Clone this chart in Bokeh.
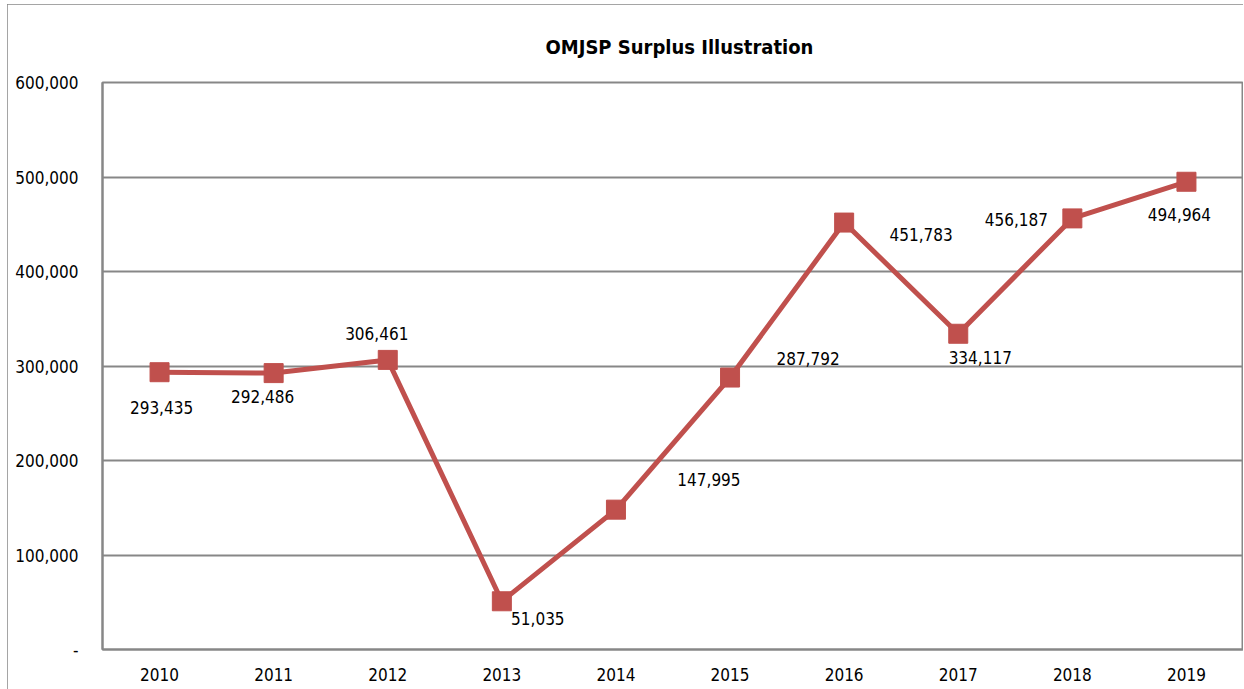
from bokeh.plotting import figure
from bokeh.models import ColumnDataSource, NumeralTickFormatter, FixedTicker, Range1d
from bokeh.core.properties import value
from bokeh.embed import file_html
from bokeh.resources import INLINE

# ---- data ----
years = ["2010", "2011", "2012", "2013", "2014", "2015", "2016", "2017", "2018", "2019"]
surplus = [293435, 292486, 306461, 51035, 147995, 287792, 451783, 334117, 456187, 494964]
y_ticks = [0, 100000, 200000, 300000, 400000, 500000, 600000]
title_text = "OMJSP Surplus Illustration"

# ---- label placement (pixel offsets, styling only) ----
label_dx = [2, -11, -11, 36, 93, 78, 77, 22, -56, -7]
label_dy = [35, 23, -26, 17, -30, -19, 12, 24, 1, 33]

FONT = "DejaVu Sans Condensed"
GRID = "#878787"
RED = "#C0504D"

src = ColumnDataSource(dict(
    year=years,
    surplus=surplus,
    label=[f"{v:,}" for v in surplus],
    dx=label_dx,
    dy=label_dy,
))

p = figure(
    width=1236, height=685,
    x_range=years, y_range=Range1d(0, 600000),
    output_backend="svg", toolbar_location=None,
    min_border_left=95, min_border_right=0, min_border_top=78, min_border_bottom=40,
    title=title_text,
)
p.styles = {"margin-left": "7px", "margin-top": "4px",
            "outline": "2px solid #878787", "outline-offset": "-2px"}

p.title.align = "left"
p.title.text_font = FONT
p.title.text_font_style = "bold"
p.title.text_font_size = "20px"
p.title.text_color = "#000000"
p.title.offset = 443
p.title.standoff = 47

p.outline_line_color = GRID
p.outline_line_width = 2
p.background_fill_color = "white"
p.border_fill_color = "white"

p.xgrid.grid_line_color = None
p.ygrid.grid_line_color = GRID
p.ygrid.grid_line_width = 2
p.yaxis.ticker = FixedTicker(ticks=y_ticks)
p.yaxis.formatter = NumeralTickFormatter(format="0,0")
p.yaxis.major_label_overrides = {0: "-"}

for ax in (p.xaxis, p.yaxis):
    ax.axis_line_color = GRID
    ax.axis_line_width = 2
    ax.major_tick_line_color = None
    ax.minor_tick_line_color = None
    ax.major_label_text_font = FONT
    ax.major_label_text_font_size = "17px"
    ax.major_label_text_color = "#000000"
p.yaxis.major_label_standoff = 18
p.xaxis.major_label_standoff = 12

p.line(x="year", y="surplus", source=src, line_color=RED, line_width=5)
p.scatter(x="year", y="surplus", source=src, marker="square", size=19,
          fill_color=RED, line_color=RED)
p.text(x="year", y="surplus", text="label", source=src,
       x_offset="dx", y_offset="dy",
       text_align="center", text_baseline="middle",
       text_font=value(FONT), text_font_size="17px", text_color="#000000")

open("out.html", "w").write(file_html(p, INLINE))
